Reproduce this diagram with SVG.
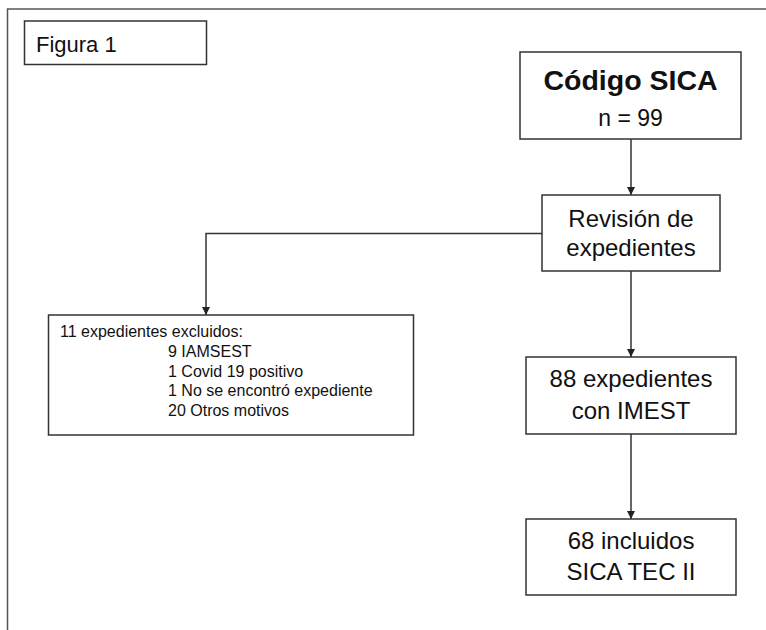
<svg xmlns="http://www.w3.org/2000/svg" width="766" height="630" viewBox="0 0 766 630">
  <defs>
    <marker id="arr" viewBox="0 0 10 10" refX="10" refY="5" markerWidth="8" markerHeight="8" markerUnits="userSpaceOnUse" orient="auto">
      <path d="M0,0 L10,5 L0,10 Z" fill="#222"/>
    </marker>
    <style>
      .box { fill: #fff; stroke: #333; stroke-width: 1.5; }
      .frame { fill: none; stroke: #555; stroke-width: 1.5; }
      .t { font-family: "Liberation Sans", Arial, sans-serif; fill: #111; }
      .c { text-anchor: middle; font-size: 24px; }
      .s { font-size: 16px; }
      .con { fill: none; stroke: #333; stroke-width: 1.5; marker-end: url(#arr); }
    </style>
  </defs>
  <rect width="766" height="630" fill="#fff"/>
  <path class="frame" d="M7.5,630 V9 H766"/>

  <g id="figura">
    <rect class="box" x="24.5" y="21" width="182" height="43.5"/>
    <text class="t" x="36" y="52" font-size="22">Figura 1</text>
  </g>

  <g id="codigo">
    <rect class="box" x="520" y="52" width="221" height="87"/>
    <text class="t" x="630.5" y="90" text-anchor="middle" font-size="28.5" font-weight="bold">Código SICA</text>
    <text class="t" x="630.5" y="126" text-anchor="middle" font-size="23">n = 99</text>
  </g>

  <g id="revision">
    <rect class="box" x="542" y="195" width="178" height="76"/>
    <text class="t c" x="631" y="227">Revisión de</text>
    <text class="t c" x="631" y="256">expedientes</text>
  </g>

  <g id="excluidos">
    <rect class="box" x="48.5" y="315" width="365" height="120"/>
    <text class="t s" x="60" y="337">11 expedientes excluidos:</text>
    <text class="t s" x="168" y="357">9 IAMSEST</text>
    <text class="t s" x="168" y="376.5">1 Covid 19 positivo</text>
    <text class="t s" x="168" y="396">1 No se encontró expediente</text>
    <text class="t s" x="168" y="416">20 Otros motivos</text>
  </g>

  <g id="imest">
    <rect class="box" x="526" y="357" width="210" height="77"/>
    <text class="t c" x="631" y="387">88 expedientes</text>
    <text class="t c" x="631" y="419">con IMEST</text>
  </g>

  <g id="incluidos">
    <rect class="box" x="526" y="519" width="210" height="76"/>
    <text class="t c" x="631" y="549">68 incluidos</text>
    <text class="t c" x="631" y="580">SICA TEC II</text>
  </g>

  <g id="connectors">
    <path class="con" d="M631,139 V195"/>
    <path class="con" d="M542,233.5 H206 V315"/>
    <path class="con" d="M631,271 V357"/>
    <path class="con" d="M631,434 V519"/>
  </g>
</svg>
